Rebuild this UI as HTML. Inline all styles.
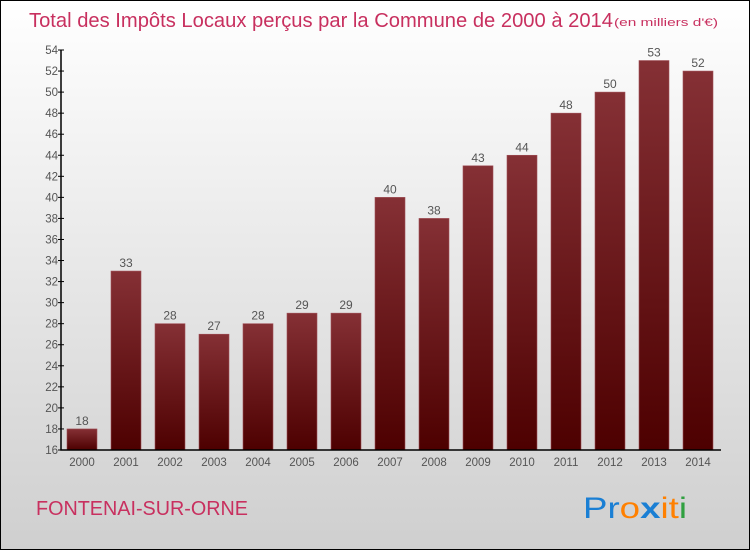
<!DOCTYPE html>
<html><head><meta charset="utf-8"><style>
body{margin:0}
#wrap{position:relative;width:748px;height:548px;border:1px solid #000;background:linear-gradient(#ffffff,#cfcfcf);font-family:"Liberation Sans",sans-serif;overflow:hidden}
</style></head><body>
<div id="wrap">
<svg id="chart" width="748" height="548">
<defs><linearGradient id="bg" x1="0" y1="0" x2="0" y2="1"><stop offset="0" stop-color="#853035"/><stop offset="1" stop-color="#4d0000"/></linearGradient></defs>
<text x="28" y="26" font-size="20" fill="#c8305f" textLength="584" lengthAdjust="spacingAndGlyphs">Total des Impôts Locaux perçus par la Commune de 2000 à 2014</text>
<text x="613" y="25" font-size="11" fill="#c8305f" textLength="104" lengthAdjust="spacingAndGlyphs">(en milliers d'€)</text>
<g id="bars"></g><g id="axes"></g>
<text x="35" y="514" font-size="20" fill="#c8305f" textLength="212" lengthAdjust="spacingAndGlyphs">FONTENAI-SUR-ORNE</text>
<text x="582" y="517" font-size="30" textLength="104" lengthAdjust="spacingAndGlyphs"><tspan fill="#1a7fd4">Pr</tspan><tspan fill="#ff8000">o</tspan><tspan fill="#1a7fd4" font-weight="bold">x</tspan><tspan fill="#ff8000">i</tspan><tspan fill="#ff8000">t</tspan><tspan fill="#30a040">i</tspan></text>
</svg></div>
<script>
const years=["2000","2001","2002","2003","2004","2005","2006","2007","2008","2009","2010","2011","2012","2013","2014"];
const values=[18,33,28,27,28,29,29,40,38,43,44,48,50,53,52];
const yTicks=[16,18,20,22,24,26,28,30,32,34,36,38,40,42,44,46,48,50,52,54];
const NS="http://www.w3.org/2000/svg";
const y=v=>449-(v-16)*(400/38);
const x=i=>66+44*i;
function mk(t,a,p){const e=document.createElementNS(NS,t);for(const k in a)e.setAttribute(k,a[k]);p.appendChild(e);return e;}
const bars=document.getElementById('bars'),axes=document.getElementById('axes');
values.forEach((v,i)=>{
 const r=mk('rect',{x:x(i),y:y(v),width:30,height:449-y(v),fill:'url(#bg)',stroke:'#a05058','stroke-width':0.6},bars);
 
 
 const t=mk('text',{x:x(i)+15,y:y(v)-4,'font-size':12,'text-anchor':'middle',fill:'#555'},bars);t.textContent=v;
 
 
 const xl=mk('text',{x:x(i)+15,y:465,'font-size':11.5,'text-anchor':'middle',fill:'#555'},axes);xl.textContent=years[i];
 
 
});
const ax=mk('path',{d:'M60,49V449H720',stroke:'#000',fill:'none','stroke-width':1.5},axes);


yTicks.forEach(v=>{
 mk('line',{x1:57,x2:63,y1:y(v),y2:y(v),stroke:'#000'},axes);
 const t=mk('text',{x:57,y:y(v)+4,'font-size':11.5,'text-anchor':'end',fill:'#555'},axes);t.textContent=v;
 
 
});
</script>
</body></html>
